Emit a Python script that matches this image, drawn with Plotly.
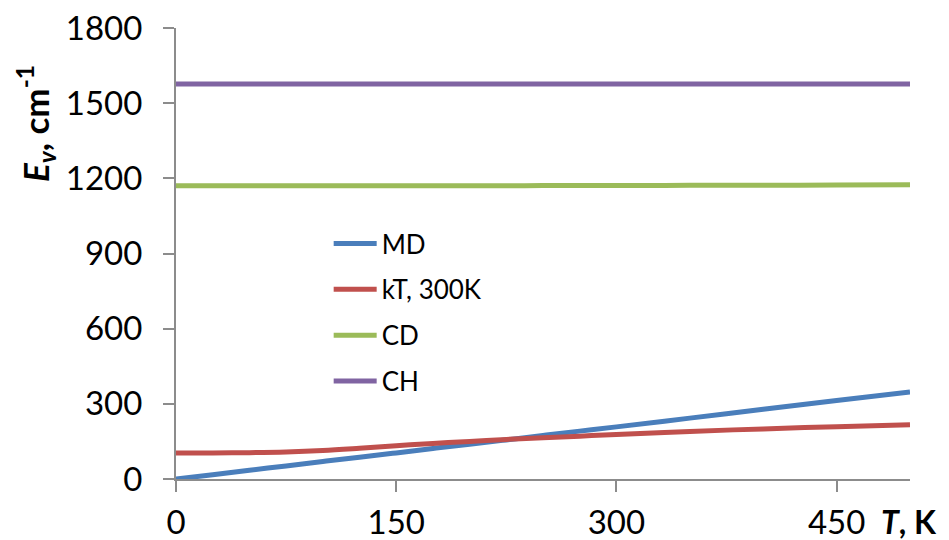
import plotly.graph_objects as go

# Data
T = [0, 25, 50, 75, 100, 125, 150, 175, 200, 225, 250, 275, 300, 350, 400, 450, 500]
MD = [0, 17, 35, 52, 70, 87, 104, 122, 139, 156, 174, 191, 208, 243, 278, 313, 347]
KT300 = [104, 104, 105, 108, 114, 123, 133, 142, 150, 158, 165, 171, 178, 190, 200, 209, 217]
CD = [1170, 1170, 1170, 1170, 1170, 1170, 1170, 1170, 1170, 1170, 1171, 1171, 1171, 1172, 1172, 1173, 1174]
CH = [1576] * len(T)

series_names = ["MD", "kT, 300K", "CD", "CH"]
colors = ["#4A7EBB", "#C0504D", "#9BBB59", "#8064A2"]
x_ticks = [0, 150, 300, 450]
y_ticks = [0, 300, 600, 900, 1200, 1500, 1800]

FONT = "Lato"

fig = go.Figure()
for i, (name, ys) in enumerate(zip(series_names, [MD, KT300, CD, CH])):
    fig.add_trace(go.Scatter(
        x=T, y=ys, mode="lines", name=name,
        line=dict(color=colors[i], width=5, shape="spline"),
        legendgroup=f"g{i}",
    ))

axis_color = "#8C8C8C"
fig.update_layout(
    width=941, height=532,
    margin=dict(l=168, r=39, t=20, b=61),
    paper_bgcolor="white", plot_bgcolor="white",
    font=dict(family=FONT, color="black"),
    showlegend=True,
    legend=dict(
        x=0.208, y=0.574, xanchor="left", yanchor="top",
        font=dict(size=26, family=FONT, color="black"),
        bgcolor="rgba(0,0,0,0)", tracegroupgap=9,
        traceorder="grouped", itemwidth=43,
    ),
    xaxis=dict(
        range=[0, 500], tickvals=x_ticks, ticktext=[str(v) for v in x_ticks],
        showgrid=False, zeroline=False, showline=True, linecolor=axis_color, linewidth=2,
        ticks="outside", ticklen=11, tickwidth=2, tickcolor=axis_color,
        tickfont=dict(size=33, family=FONT, color="black"),
        automargin=False, ticklabeloverflow="allow", ticklabelstandoff=2,
    ),
    yaxis=dict(
        range=[0, 1800], tickvals=y_ticks, ticktext=[str(v) for v in y_ticks],
        showgrid=False, zeroline=False, showline=True, linecolor=axis_color, linewidth=2,
        ticks="outside", ticklen=11, tickwidth=2, tickcolor=axis_color,
        tickfont=dict(size=33, family=FONT, color="black"),
        automargin=False, ticklabeloverflow="allow", ticklabelstandoff=14,
    ),
    annotations=[
        dict(text="<b><i>T</i>, K</b>", xref="paper", yref="paper",
             x=1.0, y=-0.095, xanchor="left", yanchor="middle", xshift=-30,
             borderpad=0, showarrow=False, font=dict(size=32, family=FONT, color="black")),
        dict(text="<b><i>E<sub>v</sub></i>, cm<sup>-1</sup></b>", xref="paper", yref="paper",
             x=0, y=0.787, xanchor="center", yanchor="middle", xshift=-141,
             borderpad=0, textangle=-90, showarrow=False,
             font=dict(size=35, family=FONT, color="black")),
    ],
)

fig.write_html("out.html")
